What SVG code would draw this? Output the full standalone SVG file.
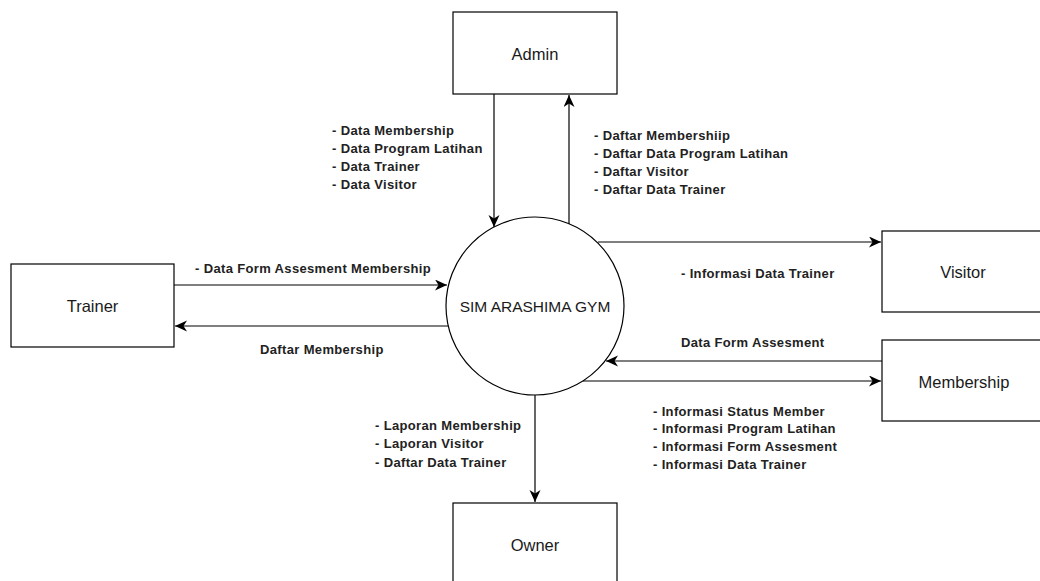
<svg xmlns="http://www.w3.org/2000/svg" width="1040" height="581" viewBox="0 0 1040 581">
<defs>
<marker id="arr" markerUnits="userSpaceOnUse" markerWidth="13" markerHeight="12" refX="12" refY="5.5" orient="auto">
<path d="M0,0 L12,5.5 L0,11 L3.5,5.5 Z" fill="#000"/>
</marker>
<style>
.box{fill:#fff;stroke:#000;stroke-width:1.2}
.node{font-family:"Liberation Sans",Arial,sans-serif;font-size:16.5px;fill:#1a1a1a;text-anchor:middle}
.proc{font-size:15.5px}
.lbl{font-family:"Liberation Sans",Arial,sans-serif;font-size:13px;font-weight:bold;letter-spacing:0.35px;fill:#222}
.edge{fill:none;stroke:#000;stroke-width:1.2;marker-end:url(#arr)}
</style>
</defs>
<rect width="1040" height="581" fill="#fff"/>
<g id="connectors">
<path class="edge" d="M494,94 L494,227"/>
<path class="edge" d="M569,224 L569,95"/>
<path class="edge" d="M174,285 L447,285"/>
<path class="edge" d="M448,326 L175,326"/>
<path class="edge" d="M598,242 L881,242"/>
<path class="edge" d="M882,361 L606,361"/>
<path class="edge" d="M583,381 L881,381"/>
<path class="edge" d="M535,395 L535,502"/>
</g>
<g id="labels">
<text class="lbl" x="332" y="135">- Data Membership</text>
<text class="lbl" x="332" y="153">- Data Program Latihan</text>
<text class="lbl" x="332" y="171">- Data Trainer</text>
<text class="lbl" x="332" y="189">- Data Visitor</text>
<text class="lbl" x="594" y="139.5">- Daftar Membershiip</text>
<text class="lbl" x="594" y="157.5">- Daftar Data Program Latihan</text>
<text class="lbl" x="594" y="175.5">- Daftar Visitor</text>
<text class="lbl" x="594" y="193.5">- Daftar Data Trainer</text>
<text class="lbl" x="195" y="272.5">- Data Form Assesment Membership</text>
<text class="lbl" x="260" y="353.5">Daftar Membership</text>
<text class="lbl" x="681" y="277.5">- Informasi Data Trainer</text>
<text class="lbl" x="681" y="346.5">Data Form Assesment</text>
<text class="lbl" x="653" y="415.5">- Informasi Status Member</text>
<text class="lbl" x="653" y="433.2">- Informasi Program Latihan</text>
<text class="lbl" x="653" y="450.9">- Informasi Form Assesment</text>
<text class="lbl" x="653" y="468.6">- Informasi Data Trainer</text>
<text class="lbl" x="375" y="429.5">- Laporan Membership</text>
<text class="lbl" x="375" y="448">- Laporan Visitor</text>
<text class="lbl" x="375" y="466.5">- Daftar Data Trainer</text>
</g>
<g id="node-admin">
<rect class="box" x="453" y="12" width="164" height="82"/>
<text class="node" x="535" y="59.5">Admin</text>
</g>
<g id="node-trainer">
<rect class="box" x="11" y="264" width="163" height="83"/>
<text class="node" x="92.5" y="311.5">Trainer</text>
</g>
<g id="node-visitor">
<rect class="box" x="882" y="231" width="164" height="81"/>
<text class="node" x="963" y="277.5">Visitor</text>
</g>
<g id="node-membership">
<rect class="box" x="882" y="340" width="164" height="81"/>
<text class="node" x="964" y="387.5">Membership</text>
</g>
<g id="node-owner">
<rect class="box" x="453" y="503" width="164" height="82"/>
<text class="node" x="535" y="550.5">Owner</text>
</g>
<g id="node-process">
<circle class="box" cx="535" cy="306" r="89"/>
<text class="node proc" x="535" y="311.5">SIM ARASHIMA GYM</text>
</g>
</svg>
